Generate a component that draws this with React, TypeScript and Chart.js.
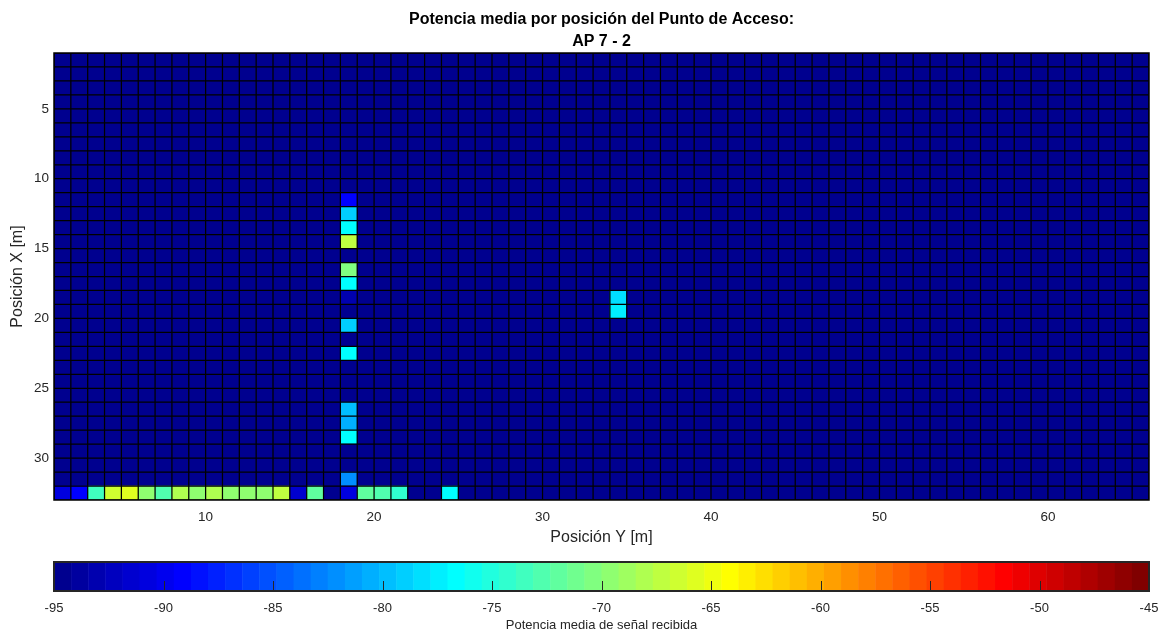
import React, { useEffect, useRef } from "react";
import { Chart, registerables } from "chart.js";

Chart.register(...registerables);

const FONT = '"Liberation Sans", Arial, Helvetica, sans-serif';
const AXIS_COLOR = "#262626";

const TITLE_LINES = ["Potencia media por posición del Punto de Acceso:", "AP 7 - 2"];
const X_LABEL = "Posición Y [m]";
const Y_LABEL = "Posición X [m]";
const CB_LABEL = "Potencia media de señal recibida";

// Grid size: rows are "Posición X", columns are "Posición Y"
const N_ROWS = 32;
const N_COLS = 65;

// Floor value for positions where no signal is received (dBm)
const FLOOR_DBM = -95;

// Colour limits of the colour bar (dBm)
const C_MIN = -95;
const C_MAX = -45;
const N_COLORS = 64;

const X_TICKS = [10, 20, 30, 40, 50, 60];
const Y_TICKS = [5, 10, 15, 20, 25, 30];
const CB_TICKS = [-95, -90, -85, -80, -75, -70, -65, -60, -55, -50, -45];

// Column Y = 18, rows X = 11..31 (dBm)
const COL18_START_ROW = 11;
const COL18_VALUES = [
  -89.1, -79.0, -76.9, -67.3, -95, -70.4, -76.8, -93.0, -95, -79.0, -95,
  -76.8, -95, -95, -95, -79.8, -80.6, -76.8, -95, -95, -82.1,
];

// Column Y = 34, rows X = 18..19 (dBm)
const COL34_START_ROW = 18;
const COL34_VALUES = [-78.3, -77.5];

// Last row X = 32, columns Y = 1..24 (dBm)
const ROW32_VALUES = [
  -90.7, -89.1, -73.5, -66.5, -65.7, -69.6, -72.7, -68.0, -69.6, -68.0, -69.6,
  -69.6, -69.8, -67.3, -91.5, -71.9, -95, -90.7, -71.9, -72.7, -74.3, -95, -95,
  -76.8,
];

type Cell = { x: number; y: number; v: number };

function buildCells(): Cell[] {
  const grid: number[][] = [];
  for (let r = 1; r <= N_ROWS; r++) {
    const row: number[] = [];
    for (let c = 1; c <= N_COLS; c++) row.push(FLOOR_DBM);
    grid.push(row);
  }
  COL18_VALUES.forEach((v, i) => (grid[COL18_START_ROW + i - 1][18 - 1] = v));
  COL34_VALUES.forEach((v, i) => (grid[COL34_START_ROW + i - 1][34 - 1] = v));
  ROW32_VALUES.forEach((v, i) => (grid[32 - 1][i] = v));
  const cells: Cell[] = [];
  for (let r = 1; r <= N_ROWS; r++)
    for (let c = 1; c <= N_COLS; c++) cells.push({ x: c, y: r, v: grid[r - 1][c - 1] });
  return cells;
}

// Classic "jet" colour map with m entries
function jet(m: number): number[][] {
  const n = Math.ceil(m / 4);
  const u: number[] = [];
  for (let i = 1; i <= n; i++) u.push(i / n);
  for (let i = 1; i < n; i++) u.push(1);
  for (let i = n; i >= 1; i--) u.push(i / n);
  const off = Math.ceil(n / 2) - (m % 4 === 1 ? 1 : 0);
  const J = Array.from({ length: m }, () => [0, 0, 0]);
  u.forEach((val, idx) => {
    const g = off + idx + 1;
    const r = g + n;
    const b = g - n;
    if (g >= 1 && g <= m) J[g - 1][1] = val;
    if (r >= 1 && r <= m) J[r - 1][0] = val;
    if (b >= 1 && b <= m) J[b - 1][2] = val;
  });
  return J;
}

const JET = jet(N_COLORS);

function rgb(c: number[]): string {
  return `rgb(${Math.round(c[0] * 255)},${Math.round(c[1] * 255)},${Math.round(c[2] * 255)})`;
}

function colorFor(v: number): string {
  const k = Math.min(N_COLORS - 1, Math.max(0, Math.floor(((v - C_MIN) / (C_MAX - C_MIN)) * N_COLORS)));
  return rgb(JET[k]);
}

// Draws every cell as a rectangle spanning [x, x+1] x [y, y+1] in data units
const heatmapPlugin = {
  id: "heatmapCells",
  beforeDatasetsDraw(chart: any) {
    const { ctx, chartArea, scales } = chart;
    const xs = scales.x;
    const ys = scales.y;
    const cells: Cell[] = chart.data.datasets[0].data;
    ctx.save();
    ctx.beginPath();
    ctx.rect(chartArea.left, chartArea.top, chartArea.right - chartArea.left, chartArea.bottom - chartArea.top);
    ctx.clip();
    for (const cell of cells) {
      const x0 = xs.getPixelForValue(cell.x);
      const x1 = xs.getPixelForValue(cell.x + 1);
      const y0 = ys.getPixelForValue(cell.y);
      const y1 = ys.getPixelForValue(cell.y + 1);
      ctx.fillStyle = colorFor(cell.v);
      ctx.fillRect(Math.min(x0, x1) - 0.3, Math.min(y0, y1) - 0.3, Math.abs(x1 - x0) + 0.6, Math.abs(y1 - y0) + 0.6);
    }
    // cell edges
    ctx.strokeStyle = "#000";
    ctx.lineWidth = 1.25;
    ctx.beginPath();
    for (let c = 1; c <= N_COLS + 1; c++) {
      const px = xs.getPixelForValue(c);
      ctx.moveTo(px, chartArea.top);
      ctx.lineTo(px, chartArea.bottom);
    }
    for (let r = 1; r <= N_ROWS + 1; r++) {
      const py = ys.getPixelForValue(r);
      ctx.moveTo(chartArea.left, py);
      ctx.lineTo(chartArea.right, py);
    }
    ctx.stroke();
    ctx.restore();
    // axes box
    ctx.save();
    ctx.strokeStyle = "#000";
    ctx.lineWidth = 1.5;
    ctx.strokeRect(chartArea.left, chartArea.top, chartArea.right - chartArea.left, chartArea.bottom - chartArea.top);
    ctx.restore();
  },
};

// Draws the colour bar segments, inner tick marks and frame
const colorbarPlugin = {
  id: "colorbarFill",
  beforeDatasetsDraw(chart: any) {
    const { ctx, chartArea, scales } = chart;
    const xs = scales.x;
    const step = (C_MAX - C_MIN) / N_COLORS;
    ctx.save();
    for (let k = 0; k < N_COLORS; k++) {
      const x0 = xs.getPixelForValue(C_MIN + k * step);
      const x1 = xs.getPixelForValue(C_MIN + (k + 1) * step);
      ctx.fillStyle = rgb(JET[k]);
      ctx.fillRect(x0, chartArea.top, x1 - x0 + 0.5, chartArea.bottom - chartArea.top);
    }
    ctx.strokeStyle = AXIS_COLOR;
    ctx.lineWidth = 1;
    ctx.beginPath();
    for (const t of xs.ticks) {
      if (t.value <= C_MIN || t.value >= C_MAX) continue;
      const px = Math.round(xs.getPixelForValue(t.value)) + 0.5;
      ctx.moveTo(px, chartArea.bottom);
      ctx.lineTo(px, chartArea.bottom - 10);
    }
    ctx.stroke();
    ctx.lineWidth = 2;
    ctx.strokeRect(chartArea.left, chartArea.top, chartArea.right - chartArea.left, chartArea.bottom - chartArea.top);
    ctx.restore();
  },
};

export default function App() {
  const mainRef = useRef<HTMLCanvasElement>(null);
  const barRef = useRef<HTMLCanvasElement>(null);

  useEffect(() => {
    const cells = buildCells();
    const main = new Chart(mainRef.current as HTMLCanvasElement, {
      type: "scatter",
      data: {
        datasets: [
          {
            data: cells as any,
            pointRadius: 0,
            pointHoverRadius: 0,
          },
        ],
      },
      options: {
        responsive: false,
        animation: false,
        events: [],
        layout: { padding: { left: 0, right: 27, top: 0, bottom: 0 } },
        plugins: {
          legend: { display: false },
          tooltip: { enabled: false },
          title: {
            display: true,
            fullSize: false,
            text: TITLE_LINES,
            color: "#000",
            font: { family: FONT, size: 16, weight: "bold", lineHeight: 22 / 16 },
            padding: { top: 9, bottom: 0 },
          },
        },
        scales: {
          x: {
            type: "linear",
            min: 1,
            max: N_COLS + 1,
            grid: { display: false, drawTicks: false },
            border: { display: false },
            ticks: {
              color: AXIS_COLOR,
              font: { family: FONT, size: 13.5 },
              padding: 9,
              autoSkip: false,
              maxRotation: 0,
            },
            afterBuildTicks: (s: any) => {
              s.ticks = X_TICKS.map((v) => ({ value: v }));
            },
            afterFit: (s: any) => {
              s.height = 50;
            },
            title: {
              display: true,
              text: X_LABEL,
              color: AXIS_COLOR,
              font: { family: FONT, size: 16 },
              padding: { top: 0, bottom: 3 },
            },
          },
          y: {
            type: "linear",
            reverse: true,
            min: 1,
            max: N_ROWS + 1,
            grid: { display: false, drawTicks: false },
            border: { display: false },
            ticks: {
              color: AXIS_COLOR,
              font: { family: FONT, size: 13.5 },
              padding: 5,
              autoSkip: false,
            },
            afterBuildTicks: (s: any) => {
              s.ticks = Y_TICKS.map((v) => ({ value: v }));
            },
            afterFit: (s: any) => {
              s.width = 54;
            },
            title: {
              display: true,
              text: Y_LABEL,
              color: AXIS_COLOR,
              font: { family: FONT, size: 16 },
              padding: { top: 8, bottom: 0 },
            },
          },
        },
      },
      plugins: [heatmapPlugin],
    } as any);

    const bar = new Chart(barRef.current as HTMLCanvasElement, {
      type: "scatter",
      data: { datasets: [{ data: [], pointRadius: 0 }] },
      options: {
        responsive: false,
        animation: false,
        events: [],
        layout: { padding: { left: 54, right: 27, top: 12, bottom: 0 } },
        plugins: { legend: { display: false }, tooltip: { enabled: false } },
        scales: {
          x: {
            type: "linear",
            min: C_MIN,
            max: C_MAX,
            grid: { display: false, drawTicks: false },
            border: { display: false },
            ticks: {
              color: AXIS_COLOR,
              font: { family: FONT, size: 13 },
              padding: 9.5,
              autoSkip: false,
              maxRotation: 0,
            },
            afterBuildTicks: (s: any) => {
              s.ticks = CB_TICKS.map((v) => ({ value: v }));
            },
            afterFit: (s: any) => {
              s.height = 46;
            },
            title: {
              display: true,
              text: CB_LABEL,
              color: AXIS_COLOR,
              font: { family: FONT, size: 13 },
              padding: { top: 0, bottom: 4 },
            },
          },
          y: { display: false, min: 0, max: 1 },
        },
      },
      plugins: [colorbarPlugin],
    } as any);

    return () => {
      main.destroy();
      bar.destroy();
    };
  }, []);

  return (
    <div
      style={{
        position: "fixed",
        left: 0,
        top: 0,
        width: 1176,
        height: 637,
        background: "#fff",
        overflow: "hidden",
      }}
    >
      <canvas ref={mainRef} width={1176} height={550} style={{ position: "absolute", left: 0, top: 0 }} />
      <canvas ref={barRef} width={1176} height={87} style={{ position: "absolute", left: 0, top: 550 }} />
    </div>
  );
}
